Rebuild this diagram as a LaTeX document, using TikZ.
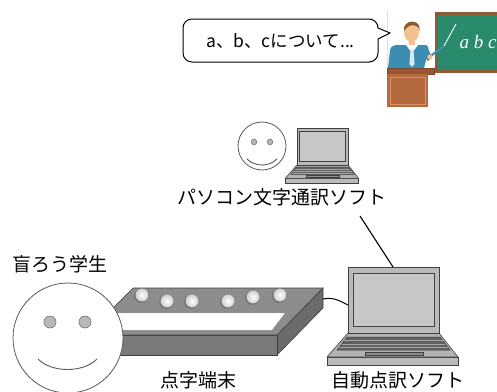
\documentclass[tikz,border=0pt]{standalone}
\usepackage{fontspec}
\setmainfont{Noto Sans CJK JP}
\newfontfamily\boardfont{Liberation Serif}
\usetikzlibrary{calc}

\definecolor{outl}{HTML}{404040}
\definecolor{boardframe}{HTML}{8E5A36}
\definecolor{boardgreen}{HTML}{2A8A6C}
\definecolor{deskdark}{HTML}{9C5530}
\definecolor{desk}{HTML}{B46A3E}
\definecolor{desklight}{HTML}{D8936A}
\definecolor{shirt}{HTML}{3C8DB4}
\definecolor{skin}{HTML}{F1C28F}
\definecolor{hair}{HTML}{8A5A2E}
\definecolor{tie}{HTML}{DDE9EF}

\tikzset{
  labeltext/.style={font=\fontsize{19}{19}\selectfont, inner sep=0pt},
  bubbletext/.style={font=\fontsize{17.5}{17.5}\selectfont, inner sep=0pt},
  link/.style={draw=black, line width=1.1pt},
  face/.style={draw=black!65, fill=white, line width=0.8pt},
  eye/.style={draw=black!55, fill=black!28, line width=0.6pt},
  mouth/.style={draw=black!65, line width=0.9pt},
  pinshadow/.style={fill=black!55},
  pin/.style={inner color=white, outer color=black!18},
  pics/laptop/.style={code={
    % base slab
    \filldraw[fill=black!27, draw=outl, line width=0.6pt] (-21,90) rectangle (110,98);
    % keyboard deck
    \filldraw[fill=black!30, draw=outl, line width=0.6pt] (0,66) -- (91,66) -- (110,90) -- (-21,90) -- cycle;
    % key rows
    \filldraw[fill=black!62, draw=outl, line width=0.5pt] (-1,70) -- (92,70) -- (102,83) -- (-11,83) -- cycle;
    \draw[black!35, line width=0.6pt] (-3.7,73.5) -- (94.7,73.5);
    \draw[black!35, line width=0.6pt] (-6.4,77) -- (97.4,77);
    \draw[black!35, line width=0.6pt] (-8.7,80) -- (99.7,80);
    % touchpad
    \filldraw[fill=black!45, draw=outl, line width=0.5pt] (17,85) rectangle (75,88);
    % lid and screen
    \filldraw[fill=black!27, draw=outl, line width=0.7pt] (0,0) rectangle (91,66);
    \filldraw[fill=black!22, draw=outl, line width=0.9pt] (5,6) rectangle (86,59);
  }}
}

\begin{document}
\begin{tikzpicture}[x=1pt, y=-1pt]
\useasboundingbox (0,0) rectangle (497,391);

% ---------- teacher at the blackboard ----------
\draw[black!12, line width=0.6pt] (387,10) -- (387,108);
\fill[boardframe] (435,12) rectangle (497,73);
\fill[boardgreen] (438,15) rectangle (497,70);
\node[text=white, font=\boardfont\itshape\fontsize{19}{19}\selectfont, inner sep=0pt] (abc) at (478,42) {a b c};
\draw[white, line width=0.9pt] (444,46) -- (456,24);
% lectern
\filldraw[fill=deskdark, draw=deskdark!80!black, line width=0.4pt] (387,68) rectangle (434,74);
\fill[desk] (387,74) rectangle (428,107);
\draw[desklight, line width=0.8pt] (390,77) rectangle (425,104);
% teacher
\fill[skin] (409,40) rectangle (415,47);
\fill[shirt] (390,50) .. controls (391,46) and (394,45) .. (398,45) -- (398,68) -- (388,68) -- cycle;
\fill[shirt] (396,45) -- (426,45) .. controls (429,47) and (429,50) .. (428,53) -- (424,68) -- (398,68) -- cycle;
\fill[shirt] (423,46) -- (428,49) -- (432,57) -- (428,61) -- (424,56) -- cycle;
\draw[shirt, line width=2.2pt, line cap=round] (429,57) -- (443,47);
\fill[skin] (430,57) circle[radius=2.6];
\fill[white] (406,45) -- (418,45) -- (412,53) -- cycle;
\fill[tie] (410.6,49) -- (413.4,49) -- (414.6,64) -- (412,67) -- (409.4,64) -- cycle;
\fill[skin] (411.5,32) ellipse[x radius=7.5, y radius=10];
\fill[hair] (404,31) .. controls (402,19) and (422,18) .. (419.5,31) -- (418,27) .. controls (414,24) and (408,25) .. (405.5,29) -- cycle;

% ---------- speech bubble ----------
\draw[line width=1pt, fill=white]
  (192,19) -- (369,19) arc[start angle=-90, end angle=0, radius=9]
  -- (378,28) -- (390,33) -- (378,39) -- (378,53)
  arc[start angle=0, end angle=90, radius=9]
  -- (192,62) arc[start angle=90, end angle=180, radius=9]
  -- (183,28) arc[start angle=180, end angle=270, radius=9] -- cycle;
\node[bubbletext] (speech) at (280.5,41) {a、b、cについて...};

% ---------- captioner: small face and laptop ----------
\draw[face] (262,146) circle[radius=24];
\draw[eye] (254,142) circle[radius=2.8];
\draw[eye] (270,142) circle[radius=2.8];
\draw[mouth] (247,159) .. controls (255,167) and (269,167) .. (277,159);
\pic[scale=0.56] at (297,128) {laptop};
\node[labeltext] (pcsoft) at (282,197) {パソコン文字通訳ソフト};

% ---------- automatic braille translation laptop ----------
\pic at (348,267) {laptop};
\node[labeltext] (brlsoft) at (398,380) {自動点訳ソフト};
\coordinate (pcsoftfoot) at (360,216);
\coordinate (bigtop) at (393,267);
\draw[link] (pcsoftfoot) -- (bigtop);

% ---------- braille display ----------
\filldraw[fill=black!58, draw=outl, line width=0.6pt] (277,335) -- (323,288) -- (323,308) -- (277,355) -- cycle;
\filldraw[fill=black!52, draw=outl, line width=0.6pt] (86,335) rectangle (277,355);
\filldraw[fill=black!45, draw=outl, line width=0.6pt] (133,288) -- (323,288) -- (277,335) -- (86,335) -- cycle;
\filldraw[fill=white, draw=black!30, line width=0.4pt] (105,313) -- (285,313) -- (272,330) -- (92,330) -- cycle;
\foreach \px/\py in {142/295, 167/301, 192/301, 228/301, 253/297, 280/295} {
  \fill[pinshadow] (\px-0.8,\py+0.8) circle[radius=7];
  \shade[pin] (\px,\py) circle[radius=6.4];
}
\coordinate (brlport) at (323,299);
\coordinate (lapport) at (348,305);
\draw[link, line width=1pt] (brlport) .. controls (333,297) and (338,300) .. (lapport);
\node[labeltext] (brldev) at (198,380) {点字端末};

% ---------- deafblind student ----------
\draw[face] (68,338) circle[radius=55];
\draw[eye] (50,322) circle[radius=6];
\draw[eye] (85,322) circle[radius=6];
\draw[mouth] (38,359) .. controls (52,373) and (83,373) .. (97,359);
\node[labeltext] (student) at (60,264) {盲ろう学生};
\end{tikzpicture}
\end{document}
